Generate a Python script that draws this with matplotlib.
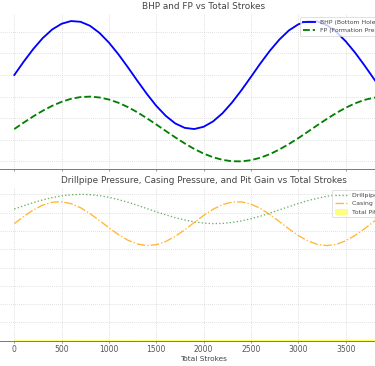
import matplotlib
matplotlib.use('Agg')
import matplotlib.pyplot as plt
from matplotlib.ticker import MultipleLocator
import numpy as np

# total strokes (every 100 strokes)
strokes = np.arange(0, 4001, 100)

# pressures
bhp = [5000, 5124, 5240, 5341, 5421, 5474, 5499, 5492, 5455, 5389,
       5299, 5191, 5071, 4946, 4825, 4714, 4622, 4552, 4511, 4500,
       4521, 4571, 4647, 4746, 4860, 4983, 5108, 5225, 5328, 5412,
       5469, 5497, 5495, 5461, 5399, 5312, 5206, 5087, 4962, 4840, 4728]
fp = [4500, 4560, 4617, 4669, 4715, 4752, 4780, 4796, 4800, 4792,
      4773, 4743, 4703, 4655, 4600, 4542, 4482, 4423, 4367, 4316,
      4273, 4239, 4215, 4202, 4201, 4212, 4235, 4268, 4311, 4361,
      4416, 4475, 4535, 4593, 4648, 4697, 4738, 4770, 4790, 4800, 4797]
drillpipe = [1800, 1844, 1886, 1924, 1955, 1979, 1994, 2000, 1996, 1982,
             1959, 1928, 1892, 1850, 1806, 1762, 1720, 1681, 1649, 1624,
             1607, 1600, 1603, 1616, 1637, 1667, 1702, 1744, 1788, 1832,
             1875, 1914, 1947, 1973, 1991, 1999, 1998, 1987, 1966, 1938, 1903]
casing = [1600, 1698, 1786, 1852, 1892, 1899, 1873, 1817, 1737, 1642,
          1543, 1450, 1373, 1321, 1300, 1312, 1356, 1426, 1516, 1615,
          1712, 1797, 1860, 1895, 1897, 1866, 1807, 1724, 1627, 1528,
          1437, 1364, 1316, 1300, 1316, 1365, 1439, 1531, 1630, 1726, 1808]
pit_gain = [0.0, 0.2, 0.5, 0.7, 1.0, 1.2, 1.5, 1.7, 2.0, 2.2,
            2.5, 2.7, 3.0, 3.2, 3.5, 3.7, 4.0, 4.2, 4.5, 4.7,
            5.0, 5.2, 5.5, 5.7, 6.0, 6.2, 6.5, 6.7, 7.0, 7.2,
            7.5, 7.7, 8.0, 8.2, 8.5, 8.7, 9.0, 9.2, 9.5, 9.7, 10.0]

plt.rcParams['text.color'] = '#444444'
plt.rcParams['axes.labelcolor'] = '#444444'
plt.rcParams['xtick.color'] = '#555555'
plt.rcParams['ytick.color'] = '#555555'

DPI = 53
fig = plt.figure(figsize=(375 / DPI, 366 / DPI), dpi=DPI)
ax1 = fig.add_axes([-0.01237, 0.5396, 1.1109, 0.4224])
ax2 = fig.add_axes([-0.01237, 0.0691, 1.1109, 0.4199], sharex=ax1)

ax1.plot(strokes, bhp, color='blue', linewidth=2.5,
         label='BHP (Bottom Hole Pressure)')
ax1.plot(strokes, fp, color='green', linestyle='--', linewidth=2.5,
         label='FP (Formation Pressure)')
ax1.set_title('BHP and FP vs Total Strokes', fontsize=12, pad=6)
ax1.set_ylim(4135, 5565)
ax1.yaxis.set_major_locator(MultipleLocator(200))
ax1.legend(loc='upper right', fontsize=8.4)
plt.setp(ax1.get_xticklabels(), visible=False)

ax2.plot(strokes, drillpipe, color='green', linestyle=':', linewidth=1.8,
         alpha=0.6, label='Drillpipe Pressure')
ax2.plot(strokes, casing, color='orange', linestyle='-.', linewidth=1.8,
         alpha=0.8, label='Casing Pressure')
ax2.fill_between(strokes, pit_gain, color='yellow', alpha=0.5,
                 label='Total Pit Gain')
ax2.set_title('Drillpipe Pressure, Casing Pressure, and Pit Gain vs Total Strokes',
              fontsize=12, pad=6)
ax2.set_xlabel('Total Strokes', fontsize=10, labelpad=2)
ax2.set_ylim(0, 2100)
ax2.yaxis.set_major_locator(MultipleLocator(250))
ax2.legend(loc='upper right', fontsize=8.4)

for ax in (ax1, ax2):
    ax.set_xlim(-200, 4200)
    ax.xaxis.set_major_locator(MultipleLocator(500))
    ax.grid(True, linestyle=':', color='#cccccc', linewidth=1)
    ax.spines['top'].set_visible(False)
    ax.spines['right'].set_visible(False)
    ax.spines['bottom'].set_color('#777777')
    ax.spines['bottom'].set_linewidth(1.3)
    ax.tick_params(labelsize=10.3, length=3)

plt.savefig('out.png', dpi=DPI)
